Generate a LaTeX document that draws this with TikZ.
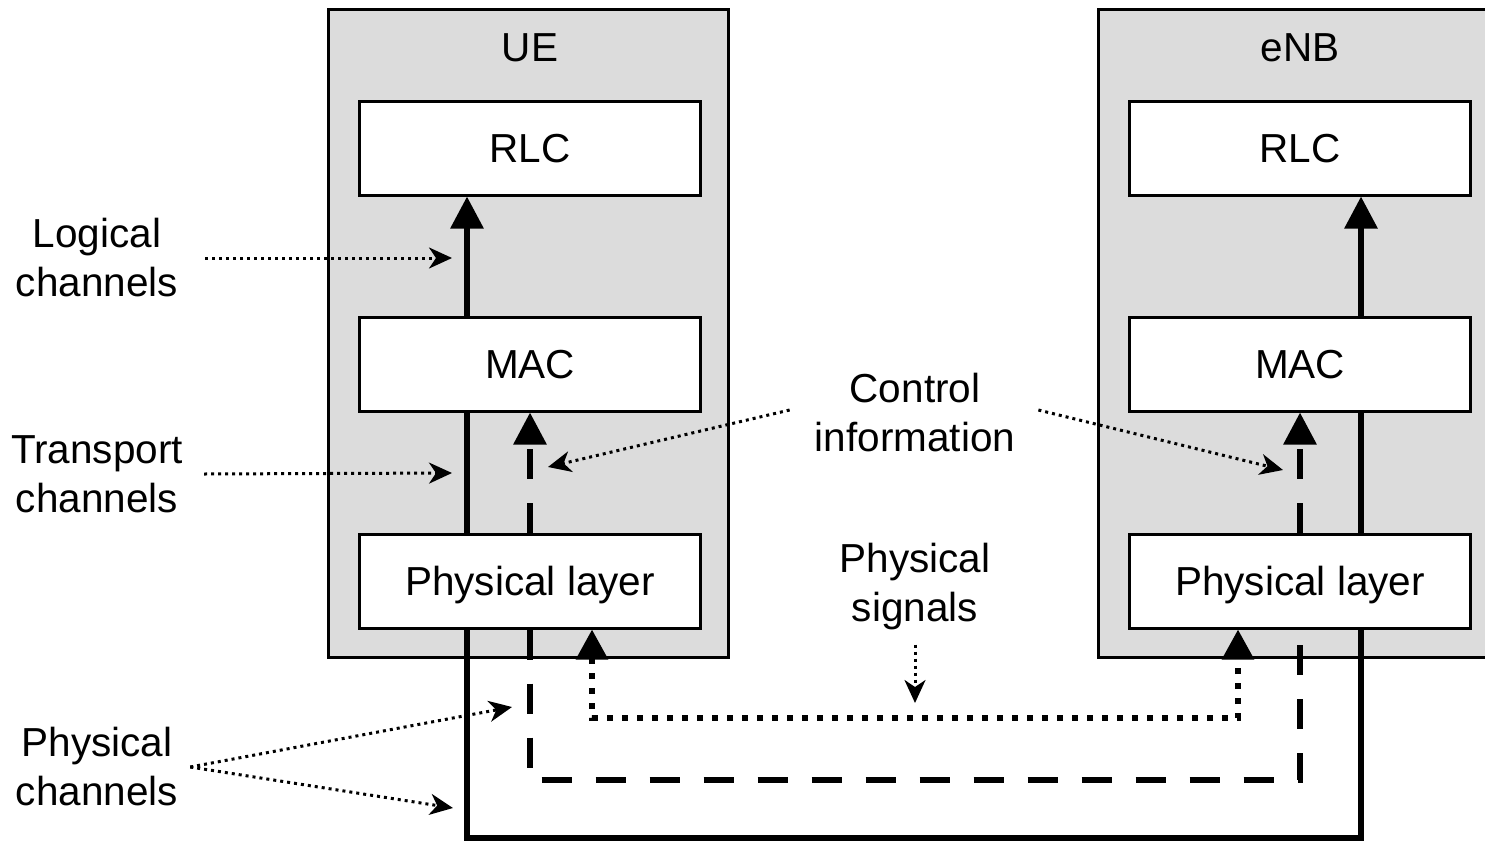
\documentclass[tikz,border=0pt]{standalone}
\usepackage{fontspec}
\setmainfont{Liberation Sans}
\usetikzlibrary{arrows.meta,positioning}
\definecolor{stackgray}{RGB}{220,220,220}
\tikzset{
  layerbox/.style={draw,line width=3pt,fill=white,minimum width=341pt,minimum height=94pt,
    inner sep=0pt,text depth=0pt},
  stackbox/.style={draw,line width=3pt,fill=stackgray},
  solidflow/.style={line width=6pt},
  dashflow/.style={line width=6pt,dash pattern=on 30pt off 24pt},
  dotflow/.style={line width=6pt,dash pattern=on 6pt off 9pt},
  bigtip/.style={-{Triangle[length=32pt,width=32pt]}},
  hint/.style={line width=3pt,dash pattern=on 3pt off 4pt,
    -{Stealth[length=23pt,width=21pt,inset=7pt]}},
  tag/.style={align=center,inner sep=0pt}
}

\begin{document}
\begin{tikzpicture}[x=1pt,y=-1pt,font=\fontsize{40.5}{49}\selectfont]
\useasboundingbox (0,0) rectangle (1485,843);

% the two stacks
\draw[stackbox] (328,10) rectangle (728,657);
\draw[stackbox] (1098,10) rectangle (1530,657);
\node (ue) at (530,48) {UE};
\node (enb) at (1300,48) {eNB};

\node[layerbox] (ueRLC) at (530,148) {RLC};
\node[layerbox] (ueMAC) at (530,364) {MAC};
\node[layerbox] (uePHY) at (530,581) {Physical layer};
\node[layerbox] (enbRLC) at (1300,148) {RLC};
\node[layerbox] (enbMAC) at (1300,364) {MAC};
\node[layerbox] (enbPHY) at (1300,581) {Physical layer};

% data path
\coordinate (ueSol) at (467,838);
\coordinate (enbSol) at (1361,838);
\draw[solidflow] (uePHY.south -| ueSol) -- (ueSol) -- (enbSol) -- (enbPHY.south -| enbSol);
\draw[solidflow] (uePHY.north -| ueSol) -- (ueMAC.south -| ueSol);
\draw[solidflow,bigtip] (ueMAC.north -| ueSol) -- (ueRLC.south -| ueSol);
\draw[solidflow] (enbPHY.north -| enbSol) -- (enbMAC.south -| enbSol);
\draw[solidflow,bigtip] (enbMAC.north -| enbSol) -- (enbRLC.south -| enbSol);

% control path
\coordinate (ueDash) at (530,780);
\draw[dashflow] (uePHY.south) -- (ueDash) -| (enbPHY.south);
\draw[dashflow,bigtip] (uePHY.north) -- (ueMAC.south);
\draw[dashflow,bigtip] (enbPHY.north) -- (enbMAC.south);

% physical signals
\coordinate (ueDot) at (592,718);
\coordinate (enbDot) at (1238,718);
\draw[dotflow,{Triangle[length=30pt,width=31pt]}-{Triangle[length=30pt,width=31pt]}]
  (uePHY.south -| ueDot) -- (ueDot) -- (enbDot) -- (enbPHY.south -| enbDot);

% labels
\node[tag] (logical) at (97,258) {Logical\\channels};
\node[tag] (transport) at (97,474) {Transport\\channels};
\node[tag] (physch) at (97,767) {Physical\\channels};
\node[tag] (control) at (915,413) {Control\\information};
\node[tag] (signals) at (915,587) {Physical\\signals};

\coordinate (logicalTip) at (452,258);
\coordinate (transportTip) at (452,473);
\coordinate (physchTipA) at (512,707);
\coordinate (physchTipB) at (453,808);
\coordinate (controlTipA) at (548,467);
\coordinate (controlTipB) at (1283,470);
\coordinate (signalsTip) at (915,703);
\coordinate (physchFork) at ([xshift=12pt]physch.east);

\draw[hint] ([xshift=27pt]logical.east) -- (logicalTip);
\draw[hint] ([xshift=21pt]transport.east) -- (transportTip);
\draw[hint] (physchFork) -- (physchTipA);
\draw[hint] (physchFork) -- (physchTipB);
\draw[hint] ([xshift=-25pt,yshift=3pt]control.west) -- (controlTipA);
\draw[hint] ([xshift=23pt,yshift=3pt]control.east) -- (controlTipB);
\draw[hint] ([yshift=-14pt]signals.south) -- (signalsTip);
\end{tikzpicture}
\end{document}
